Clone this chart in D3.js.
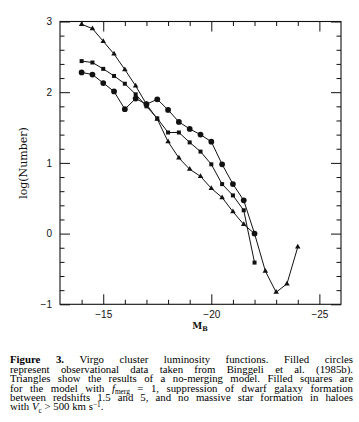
<!DOCTYPE html>
<html><head><meta charset="utf-8">
<script src="https://cdn.jsdelivr.net/npm/d3@7"></script>
<style>body{margin:0;background:#fff} svg{display:block}</style>
</head><body><svg id="c" width="359" height="422"></svg>
<script>
// ---- data ----
const magCircles = [-14,-14.5,-15,-15.5,-16,-16.5,-17,-17.5,-18,-18.5,-19,-19.5,-20,-20.5,-21,-21.5,-22];
const logCircles = [2.28,2.25,2.13,2.01,1.76,1.91,1.83,1.90,1.75,1.58,1.48,1.40,1.30,0.98,0.70,0.47,0.00];
const magSquares = [-14,-14.5,-15,-15.5,-16,-16.5,-17,-17.5,-18,-18.5,-19,-19.5,-20,-20.5,-21,-21.5,-22];
const logSquares = [2.44,2.42,2.33,2.23,2.12,1.97,1.80,1.63,1.43,1.43,1.29,1.16,0.98,0.70,0.54,0.33,-0.41];
const magTriangles = [-14,-14.5,-15,-15.5,-16,-16.5,-17,-17.5,-18,-18.5,-19,-19.5,-20,-20.5,-21,-21.5,-22,-22.5,-23,-23.5,-24];
const logTriangles = [2.96,2.90,2.72,2.54,2.32,2.09,1.83,1.62,1.30,1.07,0.91,0.81,0.64,0.51,0.31,0.13,0.00,-0.53,-0.83,-0.71,-0.19];
const xMajorTicks = [-15,-20,-25];
const xMinorTicks = [-14,-16,-17,-18,-19,-21,-22,-23,-24];
const yMajorTicks = [-1,0,1,2,3];
const yMinorTicks = [-0.8,-0.6,-0.4,-0.2,0.2,0.4,0.6,0.8,1.2,1.4,1.6,1.8,2.2,2.4,2.6,2.8];
const xLabel = "M", xLabelSub = "B";
const yLabel = "log(Number)";
const caption = [
  [[{t:"Figure",b:1}],[{t:"3.",b:1}],"Virgo","cluster","luminosity","functions.","Filled","circles"],
  ["represent","observational","data","taken","from","Binggeli","et","al.","(1985b)."],
  ["Triangles","show","the","results","of","a","no-merging","model.","Filled","squares","are"],
  ["for","the","model","with",[{t:"f",it:1},{t:"merg",sub:1}],"=","1,","suppression","of","dwarf","galaxy","formation"],
  ["between","redshifts","1.5","and","5,","and","no","massive","star","formation","in","haloes"],
  ["with",[{t:"V",it:1},{t:"c",sub:1}],">","500","km",[{t:"s"},{t:"\u22121",sup:1},{t:"."}]]
];

// ---- layout ----
const L = 60, R = 341, T = 21.5, B = 304.3;
const svg = d3.select("#c");
const x = d3.scaleLinear().domain([-13,-26]).range([L,R]);
const y = d3.scaleLinear().domain([-1,3]).range([B,T]);
const ink = "#111";
const fmt = d => d < 0 ? "\u2212" + Math.abs(d) : String(d);

function ax(gen, tr, ticks, size, labels, pad) {
  const g = svg.append("g").attr("transform", tr)
    .call(gen.tickValues(ticks).tickSizeInner(size).tickSizeOuter(0).tickPadding(pad||0)
      .tickFormat(labels ? fmt : ""));
  g.select(".domain").remove();
  g.selectAll("line").attr("stroke", ink).attr("stroke-width", 1);
  g.selectAll("text").attr("fill", ink).attr("font-family", "Liberation Sans, Arial, sans-serif").attr("font-size", 10);
  if (!labels) g.selectAll("text").remove();
  return g;
}
ax(d3.axisBottom(x), `translate(0,${B})`, xMajorTicks, -10, true, 7);
ax(d3.axisBottom(x), `translate(0,${B})`, xMinorTicks, -4.5, false);
ax(d3.axisTop(x), `translate(0,${T})`, xMajorTicks, -10, false);
ax(d3.axisTop(x), `translate(0,${T})`, xMinorTicks, -4.5, false);
ax(d3.axisLeft(y), `translate(${L},0)`, yMajorTicks, -10, true, 8);
ax(d3.axisLeft(y), `translate(${L},0)`, yMinorTicks, -4.5, false);
ax(d3.axisRight(y), `translate(${R},0)`, yMajorTicks, -10, false);
ax(d3.axisRight(y), `translate(${R},0)`, yMinorTicks, -4.5, false);

svg.append("rect").attr("x", L).attr("y", T).attr("width", R-L).attr("height", B-T)
  .attr("fill", "none").attr("stroke", ink).attr("stroke-width", 1.1);

// ---- series ----
const line = d3.line().x(d => x(d[0])).y(d => y(d[1]));
function series(mags, vals, shape, size) {
  const pts = mags.map((m,i) => [m, vals[i]]);
  svg.append("path").datum(pts).attr("d", line).attr("fill", "none").attr("stroke", ink).attr("stroke-width", 1);
  svg.append("g").selectAll("path").data(pts).join("path")
    .attr("transform", d => `translate(${x(d[0])},${y(d[1])})`)
    .attr("d", d3.symbol().type(shape).size(size)).attr("fill", ink);
}
series(magTriangles, logTriangles, d3.symbolTriangle, 13);
series(magSquares, logSquares, d3.symbolSquare, 16);
series(magCircles, logCircles, d3.symbolCircle, 26);

// ---- axis titles ----
svg.append("text").attr("transform", `translate(23,163) rotate(-90)`)
  .attr("text-anchor", "middle").attr("dy", "0.35em")
  .attr("font-family", "DejaVu Serif, serif").attr("font-size", 11).attr("fill", ink).text(yLabel);
const xt = svg.append("text").attr("x", 200).attr("y", 328.5).attr("text-anchor", "middle")
  .attr("font-family", "DejaVu Serif, serif").attr("font-weight", "bold").attr("font-size", 9).attr("fill", ink);
xt.append("tspan").text(xLabel);
xt.append("tspan").text(xLabelSub).attr("font-size", 6.5).attr("dy", 2);

// ---- caption (one text element, words positioned for justification) ----
const FONT = "Liberation Serif, Times New Roman, serif";
const cL = 10, cR = 353, base0 = 363.2, lh = 9.45;
const norm = s => typeof s === "string" ? {t: s} : s;
function segsOf(w) { return (Array.isArray(w) ? w : [w]).map(norm); }
function addSegs(parent, segs, fs, x0, yb) {
  segs.forEach((s, k) => {
    const off = s.sub ? fs*0.22 : s.sup ? -fs*0.36 : 0;
    const sp = parent.append("tspan").text(s.t).attr("y", yb + off);
    if (k === 0 && x0 != null) sp.attr("x", x0);
    if (s.sub || s.sup) sp.attr("font-size", fs*0.68);
    if (s.it) sp.attr("font-style", "italic");
    if (s.b) sp.attr("font-weight", "bold");
  });
}
function measure(w, fs) {
  const t = svg.append("text").attr("font-family", FONT).attr("font-size", fs);
  addSegs(t, segsOf(w), fs, 0, 0);
  const v = t.node().getComputedTextLength();
  t.remove();
  return v;
}
let fs = 10;
{
  const nat = d3.sum(caption[2], w => measure(w, 10)) + 2.5*(caption[2].length-1);
  fs = Math.max(9.4, Math.min(10.8, 10 * (cR - cL - 3) / nat));
}
const capText = svg.append("text").attr("font-family", FONT).attr("font-size", fs).attr("fill", "#000");
caption.forEach((words, li) => {
  const widths = words.map(w => measure(w, fs));
  const tot = d3.sum(widths);
  const last = li === caption.length - 1;
  const gap = last ? fs*0.25 : (cR - cL - tot) / (words.length - 1);
  let cx = cL;
  words.forEach((w, i) => {
    addSegs(capText, segsOf(w), fs, cx, base0 + li*lh);
    cx += widths[i] + gap;
  });
});
</script></body></html>
